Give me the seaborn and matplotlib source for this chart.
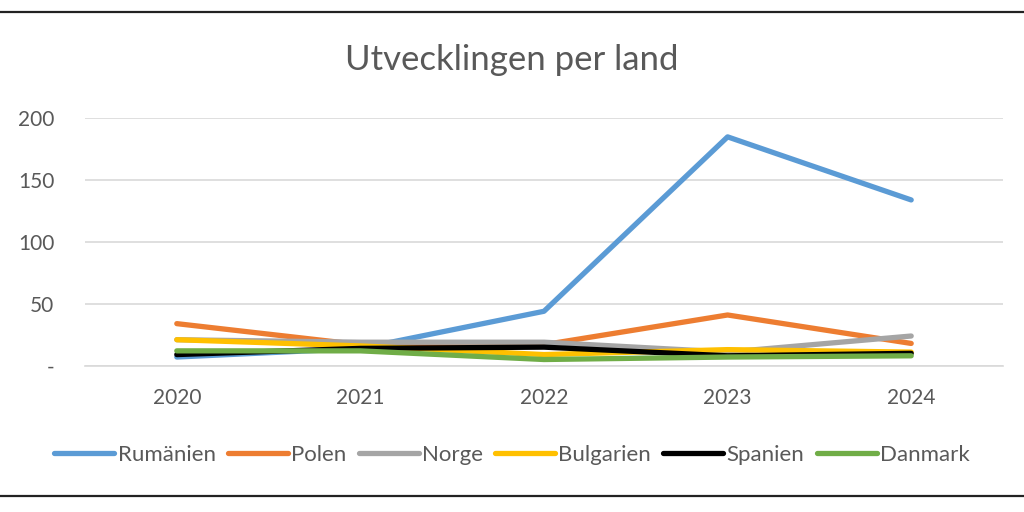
import matplotlib
matplotlib.use("Agg")
import matplotlib.pyplot as plt
from matplotlib.lines import Line2D
import seaborn as sns
import pandas as pd

years = ["2020", "2021", "2022", "2023", "2024"]
countries = ["Rumänien", "Polen", "Norge", "Bulgarien", "Spanien", "Danmark"]
rumanien = [7, 14, 44, 185, 134]
polen = [34, 17, 17, 41, 18]
norge = [21, 19, 19, 11, 24]
bulgarien = [21, 16, 9, 13, 11]
spanien = [9, 14, 15, 8, 10]
danmark = [12, 12, 5, 7, 8]
colors = ["#5B9BD5", "#ED7D31", "#A5A5A5", "#FFC000", "#000000", "#70AD47"]
yticks = [0, 50, 100, 150, 200]
ytick_labels = ["-", "50", "100", "150", "200"]
title = "Utvecklingen per land"

series = [rumanien, polen, norge, bulgarien, spanien, danmark]
rows = []
for c, vals in zip(countries, series):
    for i, (y, v) in enumerate(zip(years, vals)):
        rows.append({"land": c, "x": i, "year": y, "value": v})
df = pd.DataFrame(rows)

sns.set_theme(style="white")
plt.rcParams["font.family"] = ["Lato", "DejaVu Sans"]
text_color = "#595959"

fig = plt.figure(figsize=(10.24, 5.12), dpi=100)
ax = fig.add_axes([85/1024, 1-365.7/512, (1003-85)/1024, (365.7-118.3)/512])

sns.lineplot(data=df, x="x", y="value", hue="land", hue_order=countries,
             palette=colors, linewidth=3.8, ax=ax, legend=False,
             solid_capstyle="round", sort=False)

ax.set_xlim(-0.5, 4.5)
ax.set_ylim(0, 200)
ax.set_xticks(range(len(years)))
ax.set_xticklabels(years)
ax.set_yticks(yticks)
ax.set_yticklabels(ytick_labels)
ax.set_xlabel("")
ax.set_ylabel("")
ax.grid(axis="y", color="#D9D9D9", linewidth=1.2)
ax.set_axisbelow(True)
for s in ["top", "right", "left"]:
    ax.spines[s].set_visible(False)
ax.spines["bottom"].set_color("#D9D9D9")
ax.spines["bottom"].set_linewidth(1.2)
ax.tick_params(axis="both", length=0, labelsize=15, colors=text_color)
ax.tick_params(axis="y", pad=22)
ax.tick_params(axis="x", pad=16)

fig.text(0.5, 1-60/512, title, ha="center", va="center", fontsize=25,
         color=text_color)

handles = [Line2D([0], [0], color=c, linewidth=3.8, solid_capstyle="round") for c in colors]
fig.legend(handles, countries, loc="center", bbox_to_anchor=(0.5, 1-455/512),
           ncol=6, frameon=False, fontsize=16, handlelength=2.7,
           handletextpad=0.15, columnspacing=0.55, labelcolor=text_color)

for yy in [12, 496]:
    fig.add_artist(Line2D([0, 1], [1-yy/512, 1-yy/512], color="#222222",
                          linewidth=1.6, transform=fig.transFigure))

fig.savefig("out.png", dpi=100, facecolor="white")
